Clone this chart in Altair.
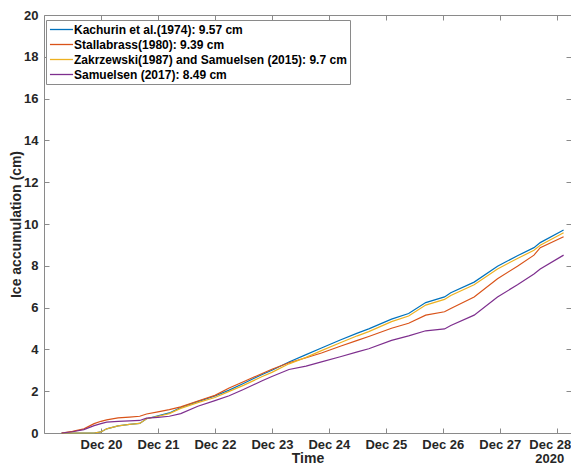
import altair as alt
import pandas as pd

# time axis: days since 2020-12-19 00:00
days = [0.31, 0.5, 0.7, 0.88, 1.0, 1.1, 1.3, 1.5, 1.68, 1.8, 2.0, 2.2, 2.4, 2.7, 3.0,
        3.25, 3.5, 3.83, 4.0, 4.3, 4.6, 4.87, 5.2, 5.5, 5.7, 6.1, 6.4, 6.7, 7.03, 7.14,
        7.55, 7.96, 8.31, 8.6, 8.71, 9.12]

kachurin = [0, 0, 0, 0, 0.05, 0.20, 0.34, 0.41, 0.46, 0.68, 0.82, 0.96, 1.22, 1.50, 1.77,
            2.05, 2.37, 2.80, 3.00, 3.40, 3.75, 4.07, 4.45, 4.78, 4.98, 5.45, 5.72, 6.24, 6.51, 6.71,
            7.22, 7.98, 8.48, 8.87, 9.11, 9.71]
stallabrass = [0, 0.08, 0.20, 0.45, 0.56, 0.63, 0.72, 0.76, 0.80, 0.91, 1.01, 1.12, 1.25, 1.53, 1.80,
               2.15, 2.45, 2.85, 3.05, 3.36, 3.60, 3.83, 4.15, 4.43, 4.62, 5.01, 5.25, 5.64, 5.80, 5.96,
               6.51, 7.38, 7.98, 8.51, 8.87, 9.39]
zakrzewski = [0, 0, 0, 0, 0.05, 0.20, 0.34, 0.41, 0.46, 0.68, 0.80, 0.93, 1.18, 1.45, 1.70,
              1.99, 2.28, 2.70, 2.90, 3.31, 3.62, 3.94, 4.32, 4.65, 4.85, 5.33, 5.60, 6.12, 6.39, 6.58,
              7.09, 7.85, 8.35, 8.74, 8.98, 9.58]
samuelsen = [0, 0.06, 0.16, 0.35, 0.45, 0.52, 0.56, 0.58, 0.60, 0.71, 0.75, 0.80, 0.93, 1.28, 1.55,
             1.78, 2.08, 2.50, 2.70, 3.04, 3.20, 3.40, 3.65, 3.88, 4.03, 4.43, 4.65, 4.89, 4.98, 5.14,
             5.64, 6.51, 7.09, 7.61, 7.85, 8.51]

series_names = ["Kachurin et al.(1974): 9.57 cm",
                "Stallabrass(1980): 9.39 cm",
                "Zakrzewski(1987) and Samuelsen (2015): 9.7 cm",
                "Samuelsen (2017): 8.49 cm"]
colors = ["#0072BD", "#D95319", "#EDB120", "#7E2F8E"]
tick_days = [20, 21, 22, 23, 24, 25, 26, 27, 28]
y_ticks = [0, 2, 4, 6, 8, 10, 12, 14, 16, 18, 20]

start = pd.Timestamp("2020-12-19 00:00")
rows = []
for k, (name, vals) in enumerate(zip(series_names, [kachurin, stallabrass, zakrzewski, samuelsen])):
    for d, v in zip(days, vals):
        rows.append({"time": (start + pd.Timedelta(days=d)).strftime("%Y-%m-%dT%H:%M:%S"),
                     "ice": v, "series": name, "k": k})
df = pd.DataFrame(rows)

W, H = 527, 418
FONT = "Liberation Sans"
AX = "#8a8a8a"

xscale = alt.Scale(domain=[alt.DateTime(year=2020, month=12, date=19, hours=0),
                           alt.DateTime(year=2020, month=12, date=28, hours=6)])
yscale = alt.Scale(domain=[0, 20], nice=False)
xvals = [alt.DateTime(year=2020, month=12, date=d) for d in tick_days]

color = alt.Color("series:N", scale=alt.Scale(domain=series_names, range=colors),
                  legend=alt.Legend(orient="none", legendX=2, legendY=5, title=None,
                                    symbolType="M-2.1,0L2.1,0", symbolSize=121,
                                    symbolStrokeWidth=1.3, symbolOffset=6,
                                    labelFont=FONT, labelFontSize=12, labelFontWeight="bold",
                                    labelColor="black", strokeColor=AX, fillColor="white",
                                    padding=3, rowPadding=2, labelOffset=6, labelLimit=400))

last_label_shift = {"condition": {"test": "datum.value > datetime(2020, 11, 27, 12)", "value": -7},
                    "value": 0}

lines = alt.Chart(df).mark_line(strokeWidth=1.2).encode(
    x=alt.X("time:T", scale=xscale,
            axis=alt.Axis(orient="bottom", values=xvals, format="%b %d", labelFont=FONT,
                          labelFontSize=13, labelFontWeight="bold", labelColor="#262626",
                          tickColor=AX, tickSize=5, offset=-5, domain=False, grid=False,
                          labelPadding=5, labelFlush=False, labelOffset=last_label_shift,
                          title="Time", titleFont=FONT,
                          titleFontSize=14, titleFontWeight="bold", titleColor="#262626",
                          titlePadding=0)),
    y=alt.Y("ice:Q", scale=yscale,
            axis=alt.Axis(orient="left", values=y_ticks, labelFont=FONT, labelFontSize=13,
                          labelFontWeight="bold", labelColor="#262626", tickColor=AX,
                          tickSize=5, offset=-5, domain=False, grid=False, labelPadding=6,
                          title="Ice accumulation (cm)", titleFont=FONT, titleFontSize=14,
                          titleFontWeight="bold", titleColor="#262626", titlePadding=0)),
    color=color,
    order=alt.Order("k:Q"),
)

ghost = alt.Chart(df).mark_line(opacity=0).encode(
    x=alt.X("time:T", scale=xscale,
            axis=alt.Axis(orient="top", values=xvals, labels=False, tickColor=AX, tickSize=5,
                          offset=-5, domain=False, grid=False, title=None)),
    y=alt.Y("ice:Q", scale=yscale,
            axis=alt.Axis(orient="right", values=y_ticks, labels=False, tickColor=AX, tickSize=5,
                          offset=-5, domain=False, grid=False, title=None)),
    detail="series:N",
)

year_df = pd.DataFrame({"t": ["2020-12-28T00:00:00"], "label": ["2020"]})
year = alt.Chart(year_df).mark_text(font=FONT, fontSize=13, fontWeight="bold", color="#262626",
                                    baseline="middle", align="center", dx=-7).encode(
    x=alt.X("t:T", scale=xscale, axis=None),
    y=alt.value(H + 26),
    text="label:N",
)

chart = alt.layer(lines, ghost, year).resolve_axis(x="independent", y="independent").properties(
    width=W, height=H,
    autosize=alt.AutoSizeParams(type="none"),
    padding={"left": 36, "top": 7, "right": 0, "bottom": 33},
    background="white",
).configure_view(stroke=AX, strokeWidth=1)

chart.save("out.html", embed_options={"renderer": "svg", "actions": False})
